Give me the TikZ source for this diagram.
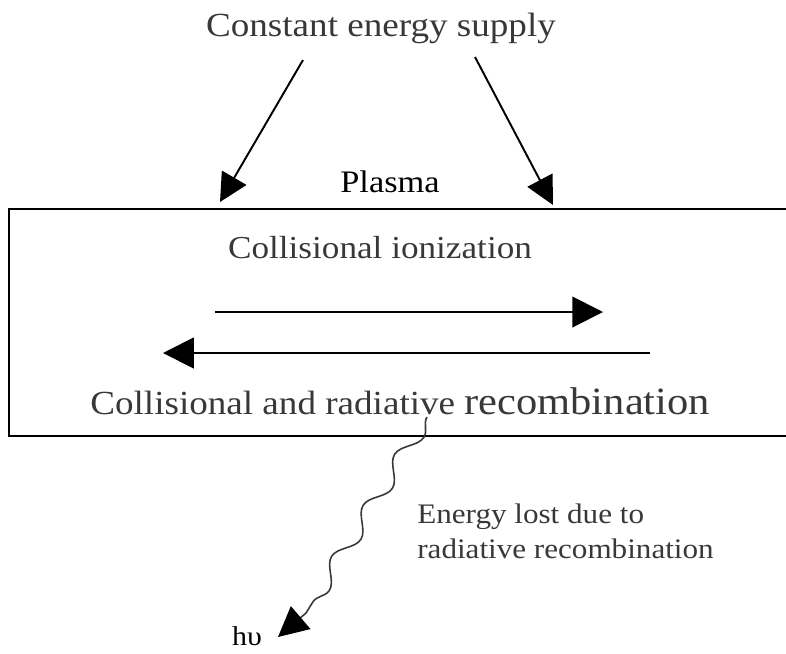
\documentclass[tikz,border=0pt]{standalone}
\usepackage{fontspec}
\setmainfont[FakeStretch=1.1]{Liberation Serif}
\usetikzlibrary{arrows.meta,decorations.pathmorphing}
\definecolor{inkgray}{gray}{0.22}

\begin{document}
\begin{tikzpicture}[x=0.02cm,y=-0.02cm]
	\useasboundingbox (0,0) rectangle (786,653);
	
	\begin{scope}[every node/.style={text=inkgray,inner sep=0pt,anchor=base}]
		\node[font=\fontsize{19.2}{22}\selectfont] (supply) at (381,36) {Constant energy supply};
		\node[font=\fontsize{17.8}{22}\selectfont,text=black] (plasma) at (390,192) {Plasma};
		\node[font=\fontsize{18.2}{22}\selectfont] (ioniz) at (380,258) {Collisional ionization};
		\node[font=\fontsize{19.2}{22}\selectfont,anchor=base west] (recomb) at (90,414) {Collisional and radiative {\fontsize{22}{24}\selectfont recombination}};
		% base of a two-line node sits on its last line
		\node[font=\fontsize{16.1}{19.8}\selectfont,anchor=base west,align=left] (lost) at (417,558) {Energy lost due to\\radiative recombination};
		\node[font=\fontsize{15.5}{18}\selectfont,text=black] (hv) at (247,645) {hυ};
	\end{scope}
	
	% plasma box, right side runs off the page
	\node[draw,line width=1.1pt,minimum width=15.82cm,minimum height=4.54cm,inner sep=0pt] (box) at (404.5,322.5) {};
	
	\coordinate (l-from) at (303,60);
	\coordinate (l-to) at (220,202);
	\coordinate (r-from) at (475,57);
	\coordinate (r-to) at (553,205);
	\coordinate (fwd-from) at (215,312);
	\coordinate (fwd-to) at (603,312);
	\coordinate (back-from) at (650,353);
	\coordinate (back-to) at (163,353);
	\coordinate (wave-from) at (427,417);
	\coordinate (wave-end) at (306,613);
	\coordinate (wave-tip) at (278,637);
	
	\begin{scope}[every edge/.style={draw=black,line width=1.1pt}]
		\path [-{Triangle[length=16pt,width=16pt]}] (l-from) edge (l-to) (r-from) edge (r-to);
		\path [-{Triangle[length=17.5pt,width=17.5pt]}] (fwd-from) edge (fwd-to) (back-from) edge (back-to);
	\end{scope}
	
	\draw[inkgray,line width=0.9pt,-{Triangle[length=17pt,width=17pt,color=black]}] (wave-from) decorate[decoration={snake,segment length=1.2cm,amplitude=0.16cm}] {-- (wave-end)} -- (wave-tip);
\end{tikzpicture}
\end{document}
